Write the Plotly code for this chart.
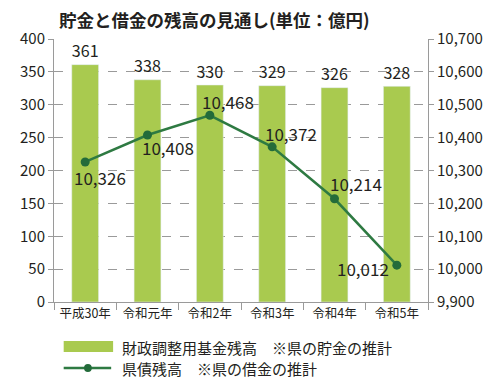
import plotly.graph_objects as go

years = ["平成30年", "令和元年", "令和2年", "令和3年", "令和4年", "令和5年"]
fund = [361, 338, 330, 329, 326, 328]
debt = [10326, 10408, 10468, 10372, 10214, 10012]
debt_labels = ["10,326", "10,408", "10,468", "10,372", "10,214", "10,012"]
label_xshift = [15, 20, 18, 19, 21, -34]
label_yshift = [-16, -12, 14, 13, 15, -3]

BAR = "#a9ca4f"
LINE = "#2e7a42"
TXT = "#231f20"
GRID = "#9a9a9a"
FONT = "Noto Sans CJK JP"

# the page body adds an 8px offset; figure is sized to compensate
OFF = 8

fig = go.Figure()
fig.add_trace(go.Bar(
    x=years, y=fund, marker_color=BAR, width=0.43,
    text=[str(v) for v in fund], textposition="outside",
    textfont=dict(size=18, color=TXT, family=FONT),
    cliponaxis=False, showlegend=False, name="財政調整用基金残高"))
fig.add_trace(go.Scatter(
    x=years, y=debt, yaxis="y2", mode="lines+markers",
    line=dict(color=LINE, width=2.5), marker=dict(color="#236b3a", size=9),
    showlegend=False, name="県債残高", cliponaxis=False))

annotations = []
for x, y, t, dx, dy in zip(years, debt, debt_labels, label_xshift, label_yshift):
    annotations.append(dict(x=x, y=y, xref="x", yref="y2", text=t, showarrow=False,
                            xshift=dx, yshift=dy,
                            font=dict(size=17, color=TXT, family=FONT)))

# positions in reference pixel coordinates
def px(xp):
    return (xp - 42) / 386.0
def py(yp):
    return (302 - yp) / 263.0

shapes = [
    dict(type="rect", xref="paper", yref="paper", x0=px(52), x1=px(103), y0=py(352), y1=py(341),
         fillcolor=BAR, line=dict(width=0)),
    dict(type="line", xref="paper", yref="paper", x0=px(52), x1=px(101), y0=py(368), y1=py(368),
         line=dict(color=LINE, width=2.5)),
    dict(type="circle", xref="paper", yref="paper", x0=px(73), x1=px(81), y0=py(372), y1=py(364),
         fillcolor="#236b3a", line=dict(width=0)),
]
annotations.append(dict(xref="paper", yref="paper", x=px(110), y=py(347), xanchor="left", yanchor="middle",
                        text="財政調整用基金残高　※県の貯金の推計", showarrow=False,
                        font=dict(size=15, color=TXT, family=FONT)))
annotations.append(dict(xref="paper", yref="paper", x=px(110), y=py(368), xanchor="left", yanchor="middle",
                        text="県債残高　※県の借金の推計", showarrow=False,
                        font=dict(size=15, color=TXT, family=FONT)))
annotations.append(dict(xref="paper", yref="paper", x=px(208), y=py(20), xanchor="center", yanchor="middle",
                        text="<b>貯金と借金の残高の見通し(単位：億円)</b>", showarrow=False,
                        font=dict(size=17.5, color=TXT, family=FONT)))

fig.update_layout(
    width=500 - OFF, height=384 - OFF,
    margin=dict(l=42 - OFF, r=72, t=39 - OFF, b=82),
    paper_bgcolor="white", plot_bgcolor="white",
    font=dict(family=FONT, color=TXT),
    xaxis=dict(showline=True, linecolor=GRID, linewidth=1, ticks="outside", tickson="boundaries",
               ticklen=7, tickcolor=GRID, tickfont=dict(size=12.5, color=TXT), range=[-0.5, 5.5],
               showgrid=False),
    yaxis=dict(range=[0, 400], dtick=50, showline=True, linecolor=GRID, linewidth=1,
               gridcolor=GRID, griddash="dash", gridwidth=1, ticks="outside", ticklen=5,
               tickcolor=GRID, tickfont=dict(size=15, color=TXT), zeroline=False),
    yaxis2=dict(range=[9900, 10700], dtick=100, overlaying="y", side="right", tickformat=",",
                showline=True, linecolor=GRID, linewidth=1, showgrid=False, ticks="outside",
                ticklen=5, tickcolor=GRID, tickfont=dict(size=15, color=TXT), zeroline=False),
    shapes=shapes, annotations=annotations, bargap=0.57,
)

fig.write_html("out.html")
